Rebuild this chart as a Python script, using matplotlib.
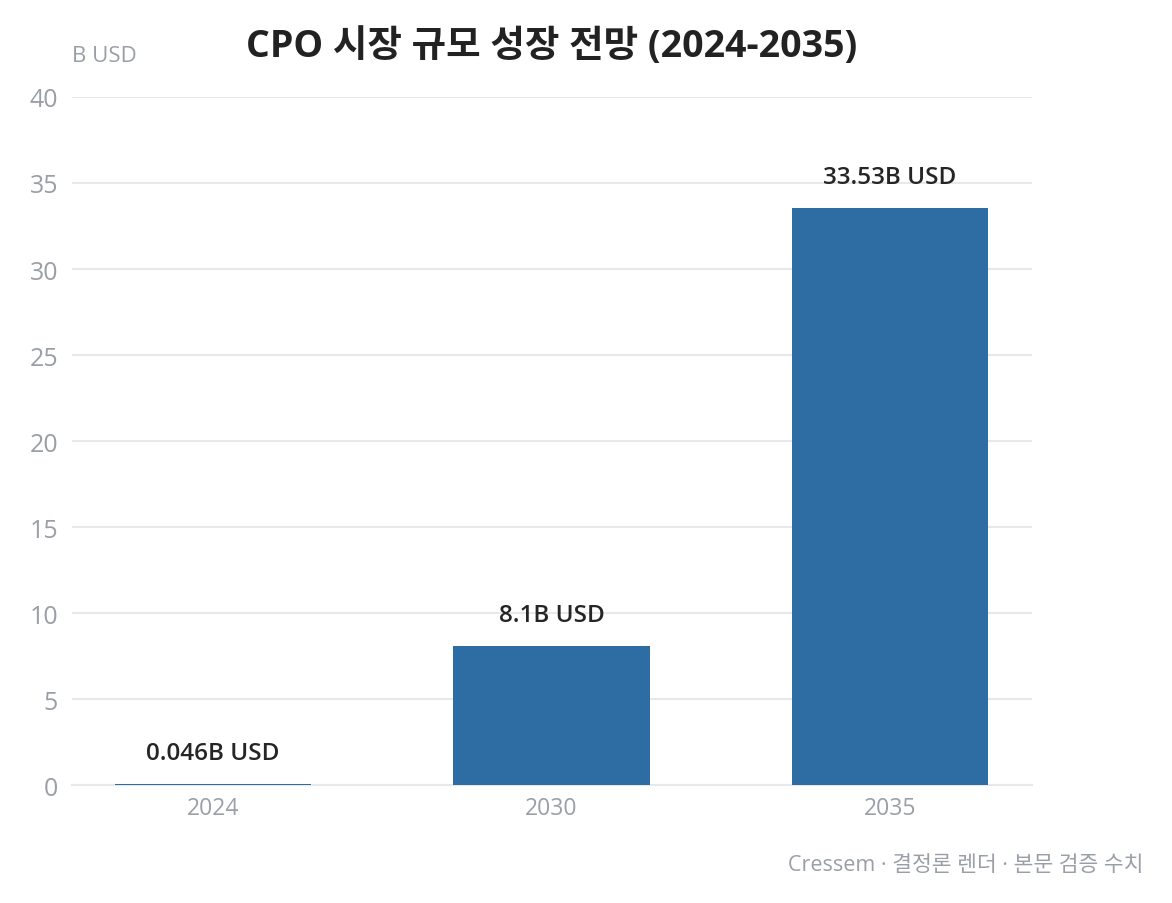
import matplotlib
matplotlib.use("Agg")
import matplotlib.pyplot as plt

plt.rcParams['font.family'] = ['Open Sans', 'Noto Sans CJK KR', 'DejaVu Sans']

# Data
years = ["2024", "2030", "2035"]
market_size = [0.046, 8.1, 33.53]
value_labels = ["0.046B USD", "8.1B USD", "33.53B USD"]
y_ticks = [0, 5, 10, 15, 20, 25, 30, 35, 40]

bar_color = "#2e6da4"
gray = "#9a9fa7"
grid_color = "#e6e8eb"

fig = plt.figure(figsize=(11.72, 9.04), dpi=100)
ax = fig.add_axes([0.0614, 0.1305, 0.8191, 0.7611])

x = range(len(years))
ax.bar(x, market_size, width=0.58, color=bar_color, zorder=3)

for xi, v, lab in zip(x, market_size, value_labels):
    ax.text(xi, v + 1.1, lab, ha="center", va="bottom", fontsize=17.5,
            fontweight="semibold", color="#252525", zorder=4)

ax.set_xlim(-0.417, 2.42)
ax.set_ylim(0, 40)
ax.set_yticks(y_ticks)
ax.set_xticks(list(x))
ax.set_xticklabels(years)

ax.grid(axis="y", color=grid_color, linewidth=1.5, zorder=0)
ax.set_axisbelow(True)
for s in ["top", "right", "left"]:
    ax.spines[s].set_visible(False)
ax.spines["bottom"].set_color(grid_color)
ax.spines["bottom"].set_linewidth(1.5)

ax.tick_params(axis="y", length=0, pad=10, labelsize=18, labelcolor=gray)
ax.tick_params(axis="x", length=0, pad=8, labelsize=16.5, labelcolor=gray)

fig.text(0.0614, 0.926, "B USD", ha="left", va="bottom", fontsize=16,
         color=gray)
fig.text(0.471, 0.948, "CPO 시장 규모 성장 전망 (2024-2035)", ha="center",
         va="center", fontsize=27, fontweight="bold", color="#222222")
fig.text(0.976, 0.043, "Cressem · 결정론 렌더 · 본문 검증 수치", ha="right",
         va="center", fontsize=15.5, color=gray)

fig.savefig("out.png", dpi=100)
